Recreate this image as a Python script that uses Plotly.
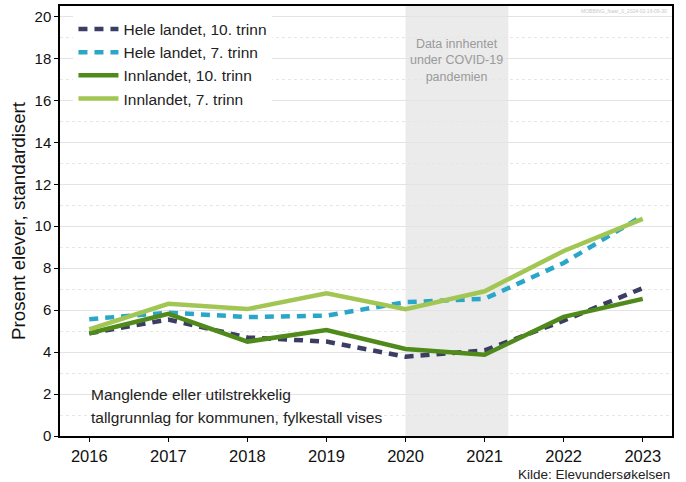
import plotly.graph_objects as go

years = [2016, 2017, 2018, 2019, 2020, 2021, 2022, 2023]
hele_10 = [4.9, 5.55, 4.7, 4.5, 3.78, 4.08, 5.5, 7.05]
hele_7 = [5.57, 5.88, 5.67, 5.74, 6.38, 6.54, 8.25, 10.5]
innl_10 = [4.9, 5.82, 4.5, 5.05, 4.15, 3.87, 5.68, 6.54]
innl_7 = [5.08, 6.3, 6.05, 6.8, 6.05, 6.9, 8.82, 10.35]
names = ["Hele landet, 10. trinn", "Hele landet, 7. trinn", "Innlandet, 10. trinn", "Innlandet, 7. trinn"]
covid_start, covid_end = 2020, 2021.3

fig = go.Figure()
styles = [("#3b3d64", "dash"), ("#2aa6c9", "dash"), ("#4f8a1b", "solid"), ("#a2c653", "solid")]
for name, vals, (c, d) in zip(names, [hele_10, hele_7, innl_10, innl_7], styles):
    fig.add_trace(go.Scatter(x=years, y=vals, name=name, mode="lines",
                             line=dict(color=c, width=4.5, dash=d if d == "solid" else "9px,7px")))

fig.add_shape(type="rect", xref="x", yref="paper", x0=covid_start, x1=covid_end, y0=0, y1=1,
              fillcolor="#ebebeb", line_width=0, layer="between")

fig.add_annotation(x=(covid_start + covid_end) / 2, y=17.9, xref="x", yref="y",
                   text="Data innhentet<br>under COVID-19<br>pandemien", showarrow=False,
                   font=dict(size=12.5, color="#9a9a9a", family="Liberation Sans"), align="center")
fig.add_annotation(x=0.048, y=2.0, xref="paper", yref="y", xanchor="left", yanchor="middle",
                   text="Manglende eller utilstrekkelig", showarrow=False, align="left",
                   font=dict(size=15.5, color="#222222", family="Liberation Sans"))
fig.add_annotation(x=0.048, y=0.9, xref="paper", yref="y", xanchor="left", yanchor="middle",
                   text="tallgrunnlag for kommunen, fylkestall vises", showarrow=False, align="left",
                   font=dict(size=15.5, color="#222222", family="Liberation Sans"))
fig.add_annotation(x=1, y=-0.089, xref="paper", yref="paper", xanchor="right", yanchor="middle",
                   text="Kilde: Elevundersøkelsen", showarrow=False,
                   font=dict(size=13.5, color="#222222", family="Liberation Sans"))
fig.add_annotation(x=0.995, y=1.0, xref="paper", yref="paper", xanchor="right", yanchor="top",
                   text="MOBBING_fsaar_0_2024-02-16-09-30", showarrow=False,
                   font=dict(size=5, color="#c8c8c8", family="Liberation Sans"))

fig.update_layout(
    width=686, height=482,
    margin=dict(l=60, r=14, t=6, b=46, autoexpand=False),
    paper_bgcolor="white", plot_bgcolor="white",
    font=dict(family="Liberation Sans", color="#111111"),
    legend=dict(x=0.022, y=0.985, xanchor="left", yanchor="top", bgcolor="white",
                font=dict(size=15.5, color="#222222"), itemwidth=40, tracegroupgap=0),
    showlegend=True,
)
fig.update_xaxes(range=[2015.63, 2023.37], tickvals=years, ticktext=[str(y) for y in years],
                 showgrid=False, showline=True, linecolor="black", linewidth=1.5, mirror=True,
                 ticks="outside", ticklen=4, tickcolor="black", tickfont=dict(size=16.5), zeroline=False)
fig.update_yaxes(range=[0, 20.5], tickvals=list(range(0, 21, 2)),
                 showgrid=True, gridcolor="#e3e3e3", gridwidth=1,
                 minor=dict(tickvals=list(range(1, 21, 2)), showgrid=True, gridcolor="#e6e6e6",
                            griddash="dot", gridwidth=1, ticks=""),
                 showline=True, linecolor="black", linewidth=1.5, mirror=True,
                 ticks="outside", ticklen=4, tickcolor="black", tickfont=dict(size=15), zeroline=False,
                 title=dict(text="Prosent elever, standardisert", font=dict(size=18.7), standoff=4))

fig.write_html("out.html", config={"displayModeBar": False},
               post_script="document.body.style.margin='0';")
